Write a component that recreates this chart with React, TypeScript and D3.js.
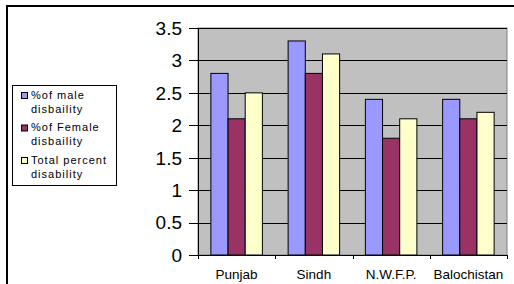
import React from "react";
import * as d3 from "d3";

const categories = ["Punjab", "Sindh", "N.W.F.P.", "Balochistan"];
const seriesNames = ["%of male disbaility", "%of Female disbaility", "Total percent disability"];
const legendLines = [["%of male", "disbaility"], ["%of Female", "disbaility"], ["Total percent", "disability"]];
const maleValues = [2.8, 3.3, 2.4, 2.4];
const femaleValues = [2.1, 2.8, 1.8, 2.1];
const totalValues = [2.5, 3.1, 2.1, 2.2];
const yTicks = [0, 0.5, 1, 1.5, 2, 2.5, 3, 3.5];
const colors = ["#9999FF", "#993366", "#FFFFCC"];

const W = 514;
const H = 284;
const plot = { left: 198, top: 28, right: 507, bottom: 255 };

export default function App() {
    const series = [maleValues, femaleValues, totalValues];

    const x = d3.scaleBand<string>().domain(categories).range([plot.left, plot.right]);
    // Excel style: gap width 150% of one bar
    const inner = d3.scaleBand<number>()
        .domain([0, 1, 2])
        .range([0, x.bandwidth()])
        .paddingOuter(0.75)
        .paddingInner(0);
    const y = d3.scaleLinear().domain([0, 3.5]).range([plot.bottom, plot.top]);

    const font = "Arial, 'Liberation Sans', sans-serif";

    return (
        <svg width={W} height={H} style={{ position: "absolute", left: 0, top: 0, background: "#fff" }}>
            {/* outer chart border */}
            <rect x={7} y={6} width={W + 10} height={H + 10} fill="none" stroke="#000" strokeWidth={2} />

            {/* plot area */}
            <rect x={plot.left} y={plot.top} width={plot.right - plot.left} height={plot.bottom - plot.top}
                fill="#C0C0C0" stroke="#808080" strokeWidth={1} />

            {yTicks.map(t => (
                <g key={t}>
                    {t > 0 && (
                        <line x1={plot.left} x2={plot.right} y1={Math.round(y(t)) + 0.5} y2={Math.round(y(t)) + 0.5}
                            stroke="#000" strokeWidth={1} />
                    )}
                    <line x1={plot.left - 9} x2={plot.left} y1={Math.round(y(t)) + 0.5} y2={Math.round(y(t)) + 0.5}
                        stroke="#000" strokeWidth={1} />
                    <text x={182} y={y(t)} dy="0.36em" textAnchor="end" fontFamily={font} fontSize={19} fill="#000">
                        {t}
                    </text>
                </g>
            ))}

            {categories.map((c, i) => (
                <g key={c}>
                    {series.map((vals, s) => (
                        <rect key={s}
                            x={(x(c) ?? 0) + (inner(s) ?? 0)}
                            y={y(vals[i])}
                            width={inner.bandwidth()}
                            height={plot.bottom - y(vals[i])}
                            fill={colors[s]} stroke="#000" strokeWidth={1} />
                    ))}
                    <text x={(x(c) ?? 0) + x.bandwidth() / 2} y={279} textAnchor="middle"
                        fontFamily={font} fontSize={13.5} fill="#000">
                        {c}
                    </text>
                </g>
            ))}

            {/* axes */}
            <line x1={plot.left + 0.5} x2={plot.left + 0.5} y1={plot.top} y2={plot.bottom} stroke="#000" />
            <line x1={plot.left} x2={plot.right} y1={plot.bottom + 0.5} y2={plot.bottom + 0.5} stroke="#000" />
            {[...categories.map(c => x(c) ?? 0), plot.right].map((v, i) => (
                <line key={i} x1={Math.round(v) + 0.5} x2={Math.round(v) + 0.5} y1={plot.bottom} y2={plot.bottom + 4}
                    stroke="#000" />
            ))}

            {/* legend */}
            <g>
                <rect x={12.5} y={85.5} width={104} height={100} fill="#fff" stroke="#000" strokeWidth={1} />
                {seriesNames.map((name, s) => (
                    <g key={name} transform={`translate(0, ${95 + s * 32.5})`}>
                        <rect x={21.5} y={-2.5} width={6} height={6} fill={colors[s]} stroke="#000" />
                        {legendLines[s].map((ln, k) => (
                            <text key={k} x={31} y={k * 14} dy="0.35em" fontFamily={font} fontSize={11}
                                letterSpacing={1} fill="#000">
                                {ln}
                            </text>
                        ))}
                    </g>
                ))}
            </g>
        </svg>
    );
}
